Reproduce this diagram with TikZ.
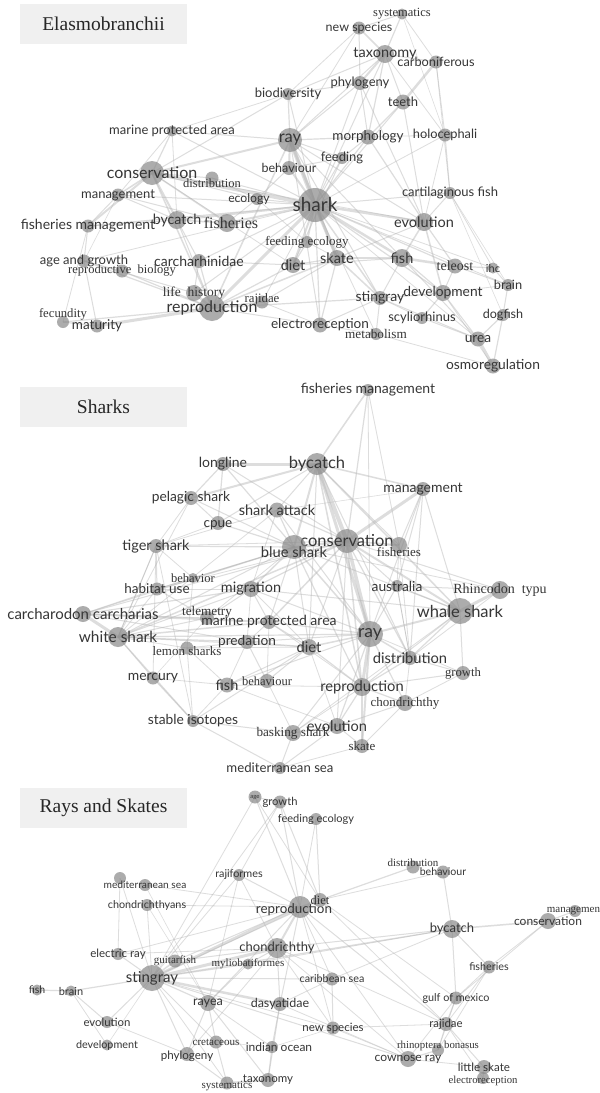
\documentclass[tikz,border=0pt]{standalone}
\usepackage{fontspec}
\setmainfont{Liberation Serif}
\setsansfont{Lato}
\pgfdeclarelayer{bg}
\pgfsetlayers{bg,main}
\definecolor{edgec}{HTML}{B4B4B4}
\definecolor{dotc}{HTML}{8A8A8A}
\definecolor{txt}{HTML}{363636}
\definecolor{boxc}{HTML}{F0F0F0}
\tikzset{
  dot/.style={circle, fill=dotc, fill opacity=0.7, draw=none, inner sep=0pt, minimum size=#1},
  sn/.style={font=\sffamily\fontsize{#1}{#1}\selectfont, text=txt, inner sep=0pt, fill opacity=1, text opacity=1},
  sf/.style={font=\rmfamily\fontsize{#1}{#1}\selectfont, text=txt, inner sep=0pt, fill opacity=1, text opacity=1},
  ln/.style={draw=edgec, draw opacity=0.45, line width=#1},
  titlebox/.style={fill=boxc, minimum width=167, minimum height=40, inner sep=0pt,
    font=\rmfamily\fontsize{19.5}{19.5}\selectfont, text=black!85}
}
\begin{document}
\begin{tikzpicture}[x=1pt,y=-1pt]
\useasboundingbox (0,0) rectangle (600,1093);

% Elasmobranchii
\node[titlebox] (t-elasmo) at (103.5,24) {Elasmobranchii};
\node[dot=11, label={[sf=12.5]center:systematics}] (e-syst) at (402,14) {};
\node[dot=13, label={[sn=12.5]center:new species}] (e-newsp) at (359,28) {};
\node[dot=18, label={[sn=14.5]center:taxonomy}] (e-taxo) at (385,54) {};
\node[dot=13, label={[sn=12.8]center:carboniferous}] (e-carbon) at (436,62) {};
\node[dot=14, label={[sn=13]center:phylogeny}] (e-phylo) at (360,83) {};
\node[dot=15, label={[sn=13]center:teeth}] (e-teeth) at (403,102) {};
\node[dot=12, label={[sn=13]center:biodiversity}] (e-biodiv) at (288,94) {};
\node[dot=15, label={[sn=13.5]center:morphology}] (e-morph) at (368,137) {};
\node[dot=13, label={[sn=12.8]center:holocephali}] (e-holo) at (445,135) {};
\node[dot=12, label={[sn=13]center:feeding}] (e-feeding) at (342,158) {};
\node[dot=11, label={[sn=13]center:marine protected area}] (e-mpa) at (172,131) {};
\node[dot=24, label={[sn=16.5]center:ray}] (e-ray) at (290,140) {};
\node[dot=14, label={[sn=12.5]center:behaviour}] (e-behav) at (289,168) {};
\node[dot=24, label={[sn=16]center:conservation}] (e-cons) at (152,173) {};
\node[dot=13, label={[sf=12.5,yshift=-5]center:distribution}] (e-distr) at (212,178) {};
\node[dot=13, label={[sn=13]center:management}] (e-mgmt) at (118,195) {};
\node[dot=12, label={[sn=12.2,xshift=-8]center:ecology}] (e-ecology) at (257,199) {};
\node[dot=18, label={[sn=14.2]center:bycatch}] (e-bycatch) at (177,220) {};
\node[dot=18, label={[sf=16,xshift=4]center:fisheries}] (e-fisher) at (227,223) {};
\node[dot=13, label={[sn=14]center:fisheries management}] (e-fmgmt) at (88,226) {};
\node[dot=12, label={[sf=13]center:feeding ecology}] (e-fecol) at (307,242) {};
\node[dot=13, label={[sn=13]center:age and growth}] (e-agegr) at (84,261) {};
\node[dot=13, label={[sf=12.5]center:reproductive\ \ biology}] (e-repbio) at (122,271) {};
\node[dot=14, label={[sn=14]center:carcharhinidae}] (e-carch) at (199,261) {};
\node[dot=16, label={[sn=14.5]center:diet}] (e-diet) at (293,265) {};
\node[dot=16, label={[sf=13.5]center:life\ \ history}] (e-lifeh) at (194,293) {};
\node[dot=26, label={[sn=16]center:reproduction}] (e-repro) at (212,308) {};
\node[dot=13, label={[sf=12.8,yshift=3]center:rajidae}] (e-rajidae) at (262,302) {};
\node[dot=12, label={[sf=12.7,yshift=8]center:fecundity}] (e-fecund) at (63,322) {};
\node[dot=13, label={[sn=13.5]center:maturity}] (e-matur) at (97,326) {};
\node[dot=15, label={[sn=13.6]center:electroreception}] (e-electro) at (320,325) {};
\node[dot=34, label={[sn=19]center:shark}] (e-shark) at (315,205) {};
\node[dot=12, label={[sn=13]center:cartilaginous fish}] (e-cartf) at (450,193) {};
\node[dot=18, label={[sn=14.5]center:evolution}] (e-evol) at (424,222) {};
\node[dot=16, label={[sn=14.5]center:skate}] (e-skate) at (337,258) {};
\node[dot=18, label={[sn=14.5]center:fish}] (e-fish) at (402,258) {};
\node[dot=15, label={[sf=14]center:teleost}] (e-teleost) at (455,266) {};
\node[dot=11, label={[sn=11]center:ihc}] (e-ihc) at (493,268) {};
\node[dot=12, label={[sn=12.8]center:brain}] (e-brain) at (508,285) {};
\node[dot=14, label={[sn=14]center:stingray}] (e-sting) at (380,298) {};
\node[dot=16, label={[sn=13.8]center:development}] (e-devel) at (443,293) {};
\node[dot=12, label={[sn=13]center:scyliorhinus}] (e-scyl) at (422,318) {};
\node[dot=12, label={[sn=12.6]center:dogfish}] (e-dogfish) at (503,315) {};
\node[dot=12, label={[sf=13.2]center:metabolism}] (e-metab) at (376,334) {};
\node[dot=15, label={[sn=13.7]center:urea}] (e-urea) at (478,339) {};
\node[dot=15, label={[sn=13.8]center:osmoregulation}] (e-osmo) at (493,366) {};

% Sharks
\node[titlebox] (t-sharks) at (103.5,407) {Sharks};
\node[dot=12, label={[sn=14]center:fisheries management}] (s-fmgmt) at (368,390) {};
\node[dot=14, label={[sn=14]center:longline}] (s-longline) at (223,464) {};
\node[dot=22, label={[sn=16.5]center:bycatch}] (s-bycatch) at (317,464) {};
\node[dot=14, label={[sn=13.8]center:pelagic shark}] (s-pelagic) at (191,498) {};
\node[dot=14, label={[sn=14]center:management}] (s-mgmt) at (423,489) {};
\node[dot=15, label={[sn=14.5]center:shark attack}] (s-attack) at (277,510) {};
\node[dot=14, label={[sn=13.5,yshift=-2]center:cpue}] (s-cpue) at (218,523) {};
\node[dot=24, label={[sn=16.5]center:conservation}] (s-cons) at (347,541) {};
\node[dot=14, label={[sn=14.5]center:tiger shark}] (s-tiger) at (156,546) {};
\node[dot=24, label={[sn=14.7,yshift=-5]center:blue shark}] (s-blue) at (294,547) {};
\node[dot=16, label={[sf=13,yshift=-7]center:fisheries}] (s-fisher) at (399,545) {};
\node[dot=10, label={[sf=12.5]center:behavior}] (s-behavior) at (193,578) {};
\node[dot=13, label={[sn=13.5]center:habitat use}] (s-habitat) at (157,589) {};
\node[dot=16, label={[sn=14.4]center:migration}] (s-migr) at (251,589) {};
\node[dot=12, label={[sn=13.8]center:australia}] (s-austr) at (397,586) {};
\node[dot=18, label={[sf=14]center:Rhincodon\ \ typu}] (s-rhinc) at (500,590) {};
\node[dot=16, label={[sn=15]center:carcharodon carcharias}] (s-carch) at (83,614) {};
\node[dot=14, label={[sf=13.2,yshift=6]center:telemetry}] (s-telem) at (207,618) {};
\node[dot=14, label={[sn=14]center:marine protected area}] (s-mpa) at (269,622) {};
\node[dot=26, label={[sn=16.5]center:whale shark}] (s-whale) at (460,611) {};
\node[dot=26, label={[sn=17.5]center:ray}] (s-ray) at (370,634) {};
\node[dot=20, label={[sn=15.4]center:white shark}] (s-white) at (118,637) {};
\node[dot=14, label={[sn=13.7]center:predation}] (s-pred) at (247,642) {};
\node[dot=13, label={[sf=13,yshift=-3]center:lemon sharks}] (s-lemon) at (187,648) {};
\node[dot=16, label={[sn=14.7]center:diet}] (s-diet) at (309,647) {};
\node[dot=14, label={[sn=14.7]center:distribution}] (s-distr) at (410,658) {};
\node[dot=14, label={[sf=12.7]center:growth}] (s-growth) at (463,673) {};
\node[dot=13, label={[sn=13.9]center:mercury}] (s-mercury) at (153,678) {};
\node[dot=15, label={[sn=14.5]center:fish}] (s-fish) at (227,685) {};
\node[dot=14, label={[sf=12.5]center:behaviour}] (s-behaviour) at (267,681) {};
\node[dot=18, label={[sn=14.7]center:reproduction}] (s-repro) at (362,687) {};
\node[dot=16, label={[sf=13]center:chondrichthy}] (s-chond) at (405,703) {};
\node[dot=12, label={[sn=13.8]center:stable isotopes}] (s-stable) at (193,721) {};
\node[dot=16, label={[sn=14.6]center:evolution}] (s-evol) at (337,726) {};
\node[dot=16, label={[sf=13.2]center:basking shark}] (s-basking) at (293,733) {};
\node[dot=14, label={[sf=13]center:skate}] (s-skate) at (362,746) {};
\node[dot=12, label={[sn=13.2]center:mediterranean sea}] (s-med) at (280,768) {};

% Rays and Skates
\node[titlebox] (t-rays) at (103.5,808) {Rays and Skates};
\node[dot=13, label={[sn=6]center:age}] (r-age) at (255,797) {};
\node[dot=13, label={[sn=11.2]center:growth}] (r-growth) at (280,802) {};
\node[dot=12, label={[sn=11]center:feeding ecology}] (r-fecol) at (316,819) {};
\node[dot=12, label={[sn=10.8]center:rajiformes}] (r-rajif) at (239,875) {};
\node[dot=12] (r-med2) at (120,878) {};
\node[dot=12, label={[sn=10.2]center:mediterranean sea}] (r-med) at (145,885) {};
\node[dot=12, label={[sn=10.8]center:chondrichthyans}] (r-chondy) at (147,905) {};
\node[dot=22, label={[sn=13.4,xshift=-6,yshift=-3]center:reproduction}] (r-repro) at (300,907) {};
\node[dot=14, label={[sf=12.5]center:diet}] (r-diet) at (320,900) {};
\node[dot=13, label={[sf=11,yshift=4]center:distribution}] (r-distr) at (413,867) {};
\node[dot=13, label={[sn=10.6]center:behaviour}] (r-behav) at (443,872) {};
\node[dot=16, label={[sn=12]center:conservation}] (r-cons) at (548,921) {};
\node[dot=12, label={[sf=11]center:management}] (r-mgmt) at (575,911) {};
\node[dot=18, label={[sn=13]center:bycatch}] (r-bycatch) at (452,929) {};
\node[dot=12, label={[sn=11.5]center:electric ray}] (r-elray) at (118,954) {};
\node[dot=13, label={[sf=11]center:guitarfish}] (r-guitar) at (175,961) {};
\node[dot=20, label={[sn=13]center:chondrichthy}] (r-chond) at (277,948) {};
\node[dot=11, label={[sf=11]center:myliobatiformes}] (r-mylio) at (248,964) {};
\node[dot=26, label={[sn=15]center:stingray}] (r-sting) at (152,978) {};
\node[dot=11, label={[sn=10.5]center:fish}] (r-fish) at (37,990) {};
\node[dot=11, label={[sn=11]center:brain}] (r-brain) at (71,991) {};
\node[dot=16, label={[sn=12.6]center:rayea}] (r-rayea) at (208,1003) {};
\node[dot=14, label={[sn=12.5]center:dasyatidae}] (r-dasy) at (280,1004) {};
\node[dot=13, label={[sn=10.8]center:caribbean sea}] (r-carib) at (332,979) {};
\node[dot=12, label={[sn=11.4]center:evolution}] (r-evol) at (107,1022) {};
\node[dot=11, label={[sn=10.8]center:development}] (r-devel) at (107,1045) {};
\node[dot=13, label={[sf=11.1]center:cretaceous}] (r-cretac) at (216,1042) {};
\node[dot=12, label={[sn=12,xshift=7]center:indian ocean}] (r-indian) at (272,1047) {};
\node[dot=14, label={[sn=11.6,yshift=-2]center:phylogeny}] (r-phylo) at (187,1054) {};
\node[dot=13, label={[sf=11,yshift=-3]center:systematics}] (r-syst) at (227,1083) {};
\node[dot=14, label={[sn=11.5]center:taxonomy}] (r-taxo) at (268,1080) {};
\node[dot=13, label={[sn=10.8]center:fisheries}] (r-fisher) at (489,967) {};
\node[dot=13, label={[sn=10.8]center:gulf of mexico}] (r-gulf) at (456,998) {};
\node[dot=13, label={[sn=11.5]center:new species}] (r-newsp) at (333,1028) {};
\node[dot=14, label={[sn=11.4]center:rajidae}] (r-rajid) at (446,1024) {};
\node[dot=12, label={[sf=10.8,yshift=4]center:rhinoptera bonasus}] (r-rhino) at (438,1050) {};
\node[dot=16, label={[sn=12.1]center:cownose ray}] (r-cownose) at (408,1059) {};
\node[dot=14, label={[sn=11.6]center:little skate}] (r-little) at (484,1067) {};
\node[dot=12, label={[sf=10.7,yshift=-3]center:electroreception}] (r-electro) at (483,1078) {};

\begin{pgfonlayer}{bg}
\fill[white] (0,0) rectangle (600,1093);
\foreach \a/\b/\w in {e-shark/e-ray/4, e-shark/e-cons/3.5, e-shark/e-repro/3, e-shark/e-skate/3,
  e-shark/e-evol/2.5, e-shark/e-fish/2.5, e-shark/e-bycatch/2, e-shark/e-fisher/2, e-shark/e-diet/2,
  e-shark/e-behav/2, e-shark/e-fecol/1.5, e-shark/e-sting/1.5, e-shark/e-devel/1.2, e-shark/e-teleost/1.2,
  e-shark/e-taxo/1, e-shark/e-phylo/1, e-shark/e-morph/1.2, e-shark/e-teeth/1, e-shark/e-holo/0.8,
  e-shark/e-cartf/1, e-shark/e-mpa/1, e-shark/e-mgmt/1, e-shark/e-fmgmt/1.2, e-shark/e-ecology/1,
  e-shark/e-distr/1, e-shark/e-carch/1, e-shark/e-lifeh/1, e-shark/e-electro/1.2, e-shark/e-brain/0.8,
  e-shark/e-ihc/0.8, e-shark/e-feeding/1, e-shark/e-biodiv/1, e-shark/e-agegr/0.8, e-shark/e-rajidae/0.8,
  e-shark/e-metab/0.8, e-shark/e-urea/0.8, e-ray/e-skate/2.5, e-ray/e-cons/2, e-ray/e-behav/2,
  e-ray/e-biodiv/1.2, e-ray/e-morph/1.2, e-ray/e-phylo/1, e-ray/e-taxo/1, e-ray/e-feeding/1,
  e-ray/e-repro/1.5, e-ray/e-mpa/1, e-ray/e-fish/1, e-ray/e-sting/1, e-ray/e-electro/1, e-ray/e-evol/1,
  e-ray/e-newsp/0.8, e-cons/e-fmgmt/2, e-cons/e-bycatch/2, e-cons/e-mgmt/1.5, e-cons/e-mpa/1.2,
  e-cons/e-fisher/1.5, e-cons/e-repro/1.5, e-cons/e-biodiv/1, e-cons/e-distr/1, e-cons/e-ecology/1,
  e-cons/e-evol/0.8, e-cons/e-diet/0.8, e-repro/e-matur/3, e-repro/e-lifeh/2.5, e-repro/e-rajidae/1.5,
  e-repro/e-agegr/1.2, e-repro/e-fecund/1.2, e-repro/e-repbio/1.2, e-repro/e-carch/1.2, e-repro/e-skate/1.5,
  e-repro/e-diet/1.2, e-repro/e-electro/1, e-repro/e-sting/1.2, e-repro/e-bycatch/1, e-matur/e-fecund/1.2,
  e-matur/e-agegr/1, e-lifeh/e-agegr/1, e-lifeh/e-carch/1, e-agegr/e-fmgmt/1, e-fmgmt/e-mgmt/1,
  e-fmgmt/e-bycatch/1, e-fmgmt/e-fecund/0.8, e-bycatch/e-fisher/1.5, e-bycatch/e-mgmt/1, e-bycatch/e-carch/1,
  e-bycatch/e-mpa/0.8, e-fisher/e-mgmt/1, e-fisher/e-ecology/0.8, e-carch/e-diet/1, e-diet/e-fecol/1.2,
  e-diet/e-skate/1.2, e-diet/e-feeding/1, e-diet/e-fish/1, e-skate/e-sting/1.5, e-skate/e-electro/1.2,
  e-skate/e-fish/1.2, e-skate/e-rajidae/1, e-skate/e-evol/1, e-evol/e-fish/1.5, e-evol/e-devel/1.5,
  e-evol/e-morph/1.2, e-evol/e-cartf/1, e-evol/e-teeth/1, e-evol/e-phylo/1, e-evol/e-teleost/1.2,
  e-evol/e-holo/0.8, e-fish/e-teleost/2.5, e-fish/e-devel/1.2, e-fish/e-sting/1, e-fish/e-urea/1,
  e-teleost/e-ihc/1.2, e-teleost/e-brain/1, e-teleost/e-devel/1, e-ihc/e-brain/1, e-ihc/e-cartf/0.8,
  e-brain/e-dogfish/1, e-brain/e-devel/0.8, e-devel/e-sting/1.2, e-devel/e-scyl/1.2, e-devel/e-urea/1,
  e-devel/e-osmo/0.8, e-scyl/e-urea/1, e-scyl/e-sting/0.8, e-dogfish/e-urea/1.2, e-dogfish/e-osmo/1.2,
  e-urea/e-osmo/3, e-urea/e-sting/1, e-osmo/e-metab/0.8, e-metab/e-sting/1, e-metab/e-electro/0.8,
  e-sting/e-electro/1, e-taxo/e-phylo/2, e-taxo/e-newsp/1.5, e-taxo/e-syst/1.2, e-taxo/e-carbon/1,
  e-taxo/e-teeth/1, e-taxo/e-morph/1.2, e-taxo/e-biodiv/1, e-taxo/e-holo/0.8, e-newsp/e-syst/1,
  e-newsp/e-phylo/1, e-newsp/e-biodiv/0.8, e-syst/e-carbon/0.8, e-syst/e-holo/0.6, e-carbon/e-teeth/2.5,
  e-carbon/e-holo/0.8, e-carbon/e-cartf/0.8, e-teeth/e-morph/1.2, e-phylo/e-morph/1, e-phylo/e-biodiv/1,
  e-morph/e-feeding/1, e-morph/e-holo/0.8, e-holo/e-cartf/1, e-cartf/e-dogfish/0.6, e-cartf/e-brain/0.6,
  e-mpa/e-mgmt/0.8, e-mpa/e-biodiv/0.8, e-behav/e-feeding/1, e-behav/e-ecology/1, e-ecology/e-fecol/0.8,
  e-distr/e-ecology/0.8, e-repbio/e-agegr/0.8, e-fecol/e-skate/0.8, e-rajidae/e-electro/0.8, e-mgmt/e-agegr/0.6}
  \draw[ln=\w] (\a.center) -- (\b.center);
\foreach \a/\b/\w in {s-bycatch/s-cons/4, s-bycatch/s-longline/3, s-bycatch/s-pelagic/2, s-bycatch/s-ray/3,
  s-bycatch/s-blue/2, s-bycatch/s-fmgmt/1.5, s-bycatch/s-mgmt/1.5, s-bycatch/s-whale/1.5, s-bycatch/s-attack/1,
  s-bycatch/s-cpue/1, s-bycatch/s-fisher/1, s-bycatch/s-repro/1.5, s-bycatch/s-distr/1, s-bycatch/s-diet/1,
  s-fmgmt/s-cons/1.2, s-fmgmt/s-ray/0.8, s-fmgmt/s-fisher/0.8, s-longline/s-pelagic/1.2, s-longline/s-cpue/1.2,
  s-longline/s-blue/1.2, s-longline/s-cons/1, s-pelagic/s-blue/1, s-pelagic/s-cpue/1, s-pelagic/s-tiger/0.8,
  s-pelagic/s-white/0.8, s-cons/s-mgmt/3, s-cons/s-ray/3.5, s-cons/s-blue/2, s-cons/s-fisher/1.5,
  s-cons/s-whale/2, s-cons/s-white/1.5, s-cons/s-carch/1, s-cons/s-attack/1.2, s-cons/s-migr/1.2,
  s-cons/s-mpa/1.5, s-cons/s-austr/1, s-cons/s-distr/1.2, s-cons/s-repro/1.5, s-cons/s-diet/1,
  s-cons/s-evol/1, s-cons/s-habitat/0.8, s-cons/s-tiger/0.8, s-cons/s-rhinc/1, s-mgmt/s-fisher/1,
  s-mgmt/s-austr/1, s-mgmt/s-distr/1, s-mgmt/s-whale/1, s-mgmt/s-ray/1, s-mgmt/s-attack/0.6,
  s-ray/s-repro/3, s-ray/s-whale/2, s-ray/s-distr/1.5, s-ray/s-diet/1.5, s-ray/s-evol/1.2, s-ray/s-skate/2,
  s-ray/s-chond/1.2, s-ray/s-blue/1.5, s-ray/s-mpa/1.2, s-ray/s-white/1.2, s-ray/s-austr/1, s-ray/s-migr/1,
  s-ray/s-pred/1, s-ray/s-fish/1, s-ray/s-growth/0.8, s-ray/s-attack/1, s-ray/s-basking/1,
  s-whale/s-rhinc/3, s-whale/s-austr/1.2, s-whale/s-distr/1.2, s-whale/s-growth/1, s-whale/s-repro/1,
  s-whale/s-blue/1, s-whale/s-migr/1, s-whale/s-basking/0.8, s-rhinc/s-austr/1, s-rhinc/s-distr/0.8,
  s-rhinc/s-blue/0.8, s-carch/s-white/3, s-carch/s-mpa/2, s-carch/s-migr/1.2, s-carch/s-habitat/1,
  s-carch/s-telem/1, s-carch/s-blue/1, s-carch/s-pred/1, s-white/s-mpa/1.5, s-white/s-telem/1,
  s-white/s-pred/1.2, s-white/s-mercury/1, s-white/s-stable/1.2, s-white/s-migr/1, s-white/s-lemon/0.8,
  s-white/s-blue/1, s-white/s-diet/1, s-white/s-habitat/0.8, s-white/s-tiger/0.8, s-blue/s-migr/1.5,
  s-blue/s-attack/1.2, s-blue/s-cpue/1.2, s-blue/s-tiger/1.2, s-blue/s-habitat/1, s-blue/s-diet/1,
  s-blue/s-repro/1.2, s-blue/s-behavior/1, s-blue/s-telem/0.8, s-blue/s-mpa/1, s-blue/s-fisher/1,
  s-tiger/s-habitat/1, s-tiger/s-cpue/0.8, s-tiger/s-attack/0.8, s-tiger/s-behavior/0.8, s-tiger/s-white/1,
  s-tiger/s-mercury/0.8, s-tiger/s-stable/0.8, s-attack/s-white/0.8, s-attack/s-migr/0.8,
  s-habitat/s-behavior/0.8, s-habitat/s-migr/1, s-habitat/s-telem/1, s-migr/s-telem/1, s-migr/s-mpa/1,
  s-migr/s-diet/0.8, s-migr/s-pred/0.8, s-mpa/s-diet/1, s-mpa/s-pred/0.8, s-mpa/s-behaviour/0.8,
  s-diet/s-fish/1, s-diet/s-behaviour/1, s-diet/s-repro/1.2, s-diet/s-pred/1, s-diet/s-stable/1,
  s-diet/s-evol/0.8, s-diet/s-lemon/0.8, s-pred/s-lemon/1, s-pred/s-behaviour/1, s-pred/s-fish/0.8,
  s-lemon/s-fish/0.8, s-lemon/s-behavior/0.8, s-lemon/s-stable/0.8, s-mercury/s-stable/1.2,
  s-mercury/s-fish/0.8, s-mercury/s-telem/0.6, s-stable/s-basking/1, s-stable/s-med/1, s-stable/s-fish/0.8,
  s-basking/s-evol/1.2, s-basking/s-med/1, s-basking/s-repro/0.8, s-basking/s-behaviour/0.8,
  s-evol/s-skate/1, s-evol/s-repro/1.2, s-evol/s-med/1, s-evol/s-chond/1, s-evol/s-fish/0.8,
  s-repro/s-chond/1.2, s-repro/s-distr/1.2, s-repro/s-skate/1.5, s-repro/s-growth/1, s-repro/s-fish/0.8,
  s-repro/s-mpa/0.8, s-chond/s-skate/1, s-chond/s-growth/0.8, s-chond/s-distr/0.8, s-distr/s-growth/1,
  s-distr/s-austr/0.8, s-skate/s-med/0.8, s-fisher/s-distr/0.8, s-fisher/s-austr/0.8, s-austr/s-distr/0.8}
  \draw[ln=\w] (\a.center) -- (\b.center);
\foreach \a/\b/\w in {r-sting/r-chond/3, r-sting/r-repro/3, r-sting/r-dasy/2.5, r-sting/r-guitar/1.5,
  r-sting/r-mylio/1.2, r-sting/r-elray/1, r-sting/r-brain/1.2, r-sting/r-bycatch/1.2, r-sting/r-rayea/1.2,
  r-sting/r-evol/1, r-sting/r-phylo/1, r-sting/r-carib/1, r-sting/r-newsp/0.8, r-sting/r-cownose/1,
  r-sting/r-chondy/0.8, r-sting/r-age/0.8, r-sting/r-growth/0.8, r-sting/r-diet/1, r-sting/r-cretac/0.8,
  r-sting/r-syst/0.8, r-brain/r-fish/1.2, r-brain/r-evol/1, r-brain/r-devel/0.8, r-repro/r-diet/1.5,
  r-repro/r-chond/2, r-repro/r-rajif/1, r-repro/r-growth/1, r-repro/r-age/1, r-repro/r-fecol/0.8,
  r-repro/r-med/0.8, r-repro/r-chondy/0.8, r-repro/r-rayea/1, r-repro/r-dasy/1, r-repro/r-rajid/1,
  r-repro/r-carib/0.8, r-repro/r-newsp/0.8, r-repro/r-cownose/0.8, r-repro/r-guitar/1, r-repro/r-elray/0.8,
  r-diet/r-distr/1.2, r-diet/r-growth/1, r-diet/r-fecol/1, r-diet/r-age/0.8, r-diet/r-gulf/0.8,
  r-diet/r-rajid/0.8, r-diet/r-behav/0.8, r-behav/r-bycatch/1, r-bycatch/r-cons/1.5, r-bycatch/r-fisher/1,
  r-bycatch/r-gulf/1, r-bycatch/r-chond/1, r-bycatch/r-carib/0.8, r-bycatch/r-mylio/0.8, r-cons/r-mgmt/1,
  r-cons/r-fisher/0.8, r-cons/r-gulf/0.8, r-fisher/r-rajid/0.8, r-fisher/r-gulf/0.8, r-fisher/r-rhino/0.8,
  r-gulf/r-rajid/1, r-gulf/r-cownose/0.8, r-gulf/r-rhino/0.8, r-rajid/r-little/1, r-rajid/r-newsp/0.8,
  r-rajid/r-rhino/0.8, r-rajid/r-electro/0.8, r-cownose/r-rhino/1.2, r-cownose/r-little/0.8,
  r-cownose/r-dasy/0.8, r-little/r-electro/1.2, r-taxo/r-syst/2, r-taxo/r-indian/1, r-taxo/r-rayea/1,
  r-taxo/r-dasy/1, r-syst/r-phylo/1, r-syst/r-cretac/1, r-rayea/r-cretac/1, r-rayea/r-phylo/1,
  r-rayea/r-indian/0.8, r-rayea/r-rajif/0.8, r-dasy/r-indian/1, r-dasy/r-chond/1, r-chond/r-mylio/1,
  r-chond/r-rajid/0.8, r-chond/r-newsp/0.8, r-chond/r-guitar/1, r-chond/r-elray/0.8, r-chond/r-rajif/0.8,
  r-chond/r-phylo/0.8, r-chond/r-cownose/0.8, r-carib/r-newsp/1, r-carib/r-dasy/0.8, r-med2/r-elray/0.8,
  r-med2/r-sting/0.8, r-med/r-rayea/0.6, r-chondy/r-rayea/0.6, r-rajif/r-growth/0.8, r-rajif/r-sting/0.8,
  r-growth/r-age/0.8, r-evol/r-phylo/0.8, r-devel/r-sting/0.6, r-mylio/r-rayea/0.8, r-indian/r-newsp/0.6,
  r-cretac/r-indian/0.6, r-newsp/r-cownose/0.6}
  \draw[ln=\w] (\a.center) -- (\b.center);
\end{pgfonlayer}
\end{tikzpicture}
\end{document}
